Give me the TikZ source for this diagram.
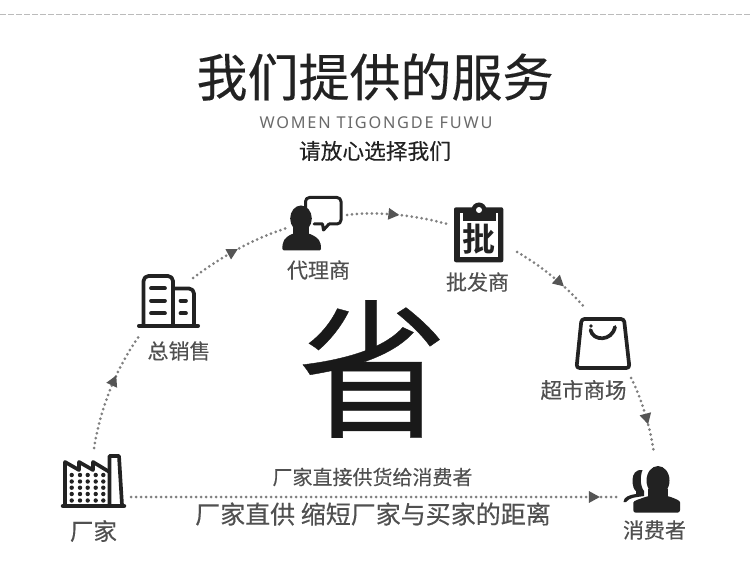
\documentclass[tikz,border=0pt]{standalone}
\usepackage{fontspec}
\usetikzlibrary{arrows.meta,decorations.markings}
\newfontfamily\cjk[FakeBold=0.25]{Noto Sans CJK SC}
\newfontfamily\cjkb{Noto Sans CJK SC Bold}
\newfontfamily\latn[LetterSpace=11]{Noto Sans}
\definecolor{inkc}{HTML}{222222}
\definecolor{labelc}{HTML}{505050}
\definecolor{subc}{HTML}{6A6A6A}
\definecolor{dotc}{HTML}{808080}
\definecolor{headc}{HTML}{555555}
\definecolor{rulec}{HTML}{BBBBBB}
\tikzset{
  x=1pt,y=-1pt,
  txt/.style={inner sep=0pt,outer sep=0pt,font=\cjk\fontsize{#1}{#1}\selectfont,text=labelc},
  anchorbox/.style={inner sep=0pt,outer sep=0pt,draw=none,fill=none},
  dotline/.style={draw=dotc,line width=3pt,line cap=round,dash pattern=on 0pt off 5pt},
  headat/.style={postaction={decorate,decoration={markings,mark=at position #1 with {\arrow[headc]{Triangle[length=11pt,width=11pt]}}}}},
  iconline/.style={draw=inkc,line width=3.7pt,line cap=round,line join=round},
  iconfill/.style={fill=inkc,draw=none},
}
\begin{document}
\begin{tikzpicture}
\useasboundingbox[fill=white] (0,0) rectangle (750,577);
% top rule
\draw[rulec,line width=1pt,dash pattern=on 6pt off 2pt] (0,15) coordinate (ruleL) -- (750,15) coordinate (ruleR);
% headings
\node[txt=51,text=inkc] (title) at (375,77) {我们提供的服务};
\node[inner sep=0pt,font=\latn\fontsize{16.3}{16.3}\selectfont,text=subc] (sub) at (376,123) {WOMEN TIGONGDE FUWU};
\node[txt=21.7,text=inkc] (sub2) at (375,151) {请放心选择我们};
\node[txt=150,text=black!90] (sheng) at (372.5,369) {省};
% layout boxes for icons
\node[anchorbox,minimum width=74pt,minimum height=98pt] (factory) at (94,497) {};
\node[anchorbox,minimum width=53pt,minimum height=57pt] (building) at (166.5,306.5) {};
\node[anchorbox,minimum width=60pt,minimum height=13pt] (agent) at (317,221.5) {};
\node[anchorbox,minimum width=70pt,minimum height=28pt] (clip) at (482,238) {};
\node[anchorbox,minimum width=46pt,minimum height=70pt] (bag) at (608,343) {};
\node[anchorbox,minimum width=76pt,minimum height=88pt] (consumer) at (654,497) {};
% connectors
\draw[dotline,headat=0.62] (factory.north) .. controls (101,405) and (118,365) .. (building.south west);
\draw[dotline,headat=0.5] (building.north east) .. controls (222,256) and (255,238) .. (agent.south west);
\draw[dotline,headat=0.52] (agent.north east) .. controls (375,211) and (415,215) .. (clip.north west);
\draw[dotline,headat=0.66] (clip.south east) .. controls (540,265) and (565,285) .. (bag.north west);
\draw[dotline,headat=0.63] (bag.south east) .. controls (640,395) and (650,425) .. (consumer.north);
\draw[dotline,headat=0.967] (factory.east) -- (consumer.west);
% factory icon
\draw[iconline,fill=white] (65,505) -- (65,462) -- (79,470) -- (79,462) -- (93,470) -- (93,462) -- (109.5,472);
\draw[iconline] (109.5,505) -- (109.5,456) -- (119,456) -- (122,505);
\draw[draw=inkc,line width=4.5pt,line cap=round] (63,506) -- (124,506);
\foreach \cx in {71.7,80,87.7,95.7,103.3}
  \foreach \cy in {475,481.5,487.7,494,500.5}
    \fill[inkc] (\cx,\cy) circle[radius=2.2pt];
% building icon
\draw[iconline,rounded corners=5pt] (143.5,325) -- (143.5,276) -- (173,276) -- (173,325);
\draw[iconline,rounded corners=5pt] (173,288.5) -- (194,288.5) -- (194,325);
\draw[draw=inkc,line width=4pt,line cap=round] (139,325.8) -- (198,325.8);
\foreach \cy in {288.3,300.7,313.3}
  \draw[iconline] (151,\cy) -- (165,\cy);
\foreach \cy in {300.7,313.3}
  \draw[iconline] (180.5,\cy) -- (186,\cy);
% agent icon
\draw[draw=inkc,line width=3pt,line join=round,line cap=round,rounded corners=4pt]
  (305.5,208) -- (305.5,197.5) -- (341,197.5) -- (341,224) -- (329,224);
\draw[draw=inkc,line width=3pt,line join=round,line cap=round] (329,224) -- (323.5,230) -- (322.5,224) -- (314,224);
\fill[inkc] (301,218.5) ellipse[x radius=10.8pt,y radius=13pt];
\fill[inkc] (293,226) rectangle (309,236);
\fill[inkc,rounded corners=1.5pt] (282.3,250.5) .. controls (282.5,241) and (284,238) .. (293,233.5)
  -- (309,233.5) .. controls (319,238) and (321,241) .. (321,250.5) -- cycle;
% clipboard icon
\fill[inkc,rounded corners=2pt] (454,207.3) rectangle (503.3,262.3);
\fill[inkc] (479,210) circle[radius=7.5pt];
\fill[white] (479,210) circle[radius=3pt];
\fill[white] (460,213.5) rectangle (463,221);
\fill[white] (495.5,213.5) rectangle (498.3,221);
\fill[white] (460,220.7) rectangle (498.3,257.3);
\node[inner sep=0pt,font=\cjkb\fontsize{33}{33}\selectfont,text=inkc] (pi) at (479,239) {批};
% bag icon
\draw[iconline,rounded corners=3pt] (581.5,319) -- (624,319) -- (629.5,368) -- (576.5,368) -- cycle;
\draw[iconline] (590.5,330) .. controls (593,341.5) and (612,341.5) .. (615,327);
\fill[inkc] (591,326) circle[radius=1.8pt];
% consumer icon
\fill[inkc] (658,480.5) ellipse[x radius=11.5pt,y radius=14.5pt];
\fill[inkc] (648,489) rectangle (668,499);
\fill[inkc,rounded corners=2.5pt] (633.3,512.7) -- (633.3,505) .. controls (633.5,500.5) and (640,499) .. (648,496)
  -- (668,496) .. controls (676,499) and (680,500.5) .. (680,505) -- (680,512.7) -- cycle;
\fill[inkc] (642.5,470) .. controls (636,469) and (632.5,474) .. (632.5,480)
  .. controls (632.5,486) and (634,490) .. (636,491) -- (636,494)
  .. controls (629,495) and (623.5,497) .. (623.5,502) -- (626,502)
  .. controls (630,497) and (636,497.5) .. (644,496) -- (644,491)
  .. controls (640,486) and (640,476) .. (642.5,470) -- cycle;
% labels
\node[txt=23.5] (l1) at (93.5,531) {厂家};
\node[txt=21] (l2) at (179,351) {总销售};
\node[txt=21] (l3) at (318.5,270) {代理商};
\node[txt=21] (l4) at (477.5,282) {批发商};
\node[txt=21.5] (l5) at (583.5,390) {超市商场};
\node[txt=21] (l6) at (654.5,530) {消费者};
\node[txt=20] (l7) at (372.5,477) {厂家直接供货给消费者};
\node[txt=25] (l8) at (373,514) {厂家直供 缩短厂家与买家的距离};
\end{tikzpicture}
\end{document}
